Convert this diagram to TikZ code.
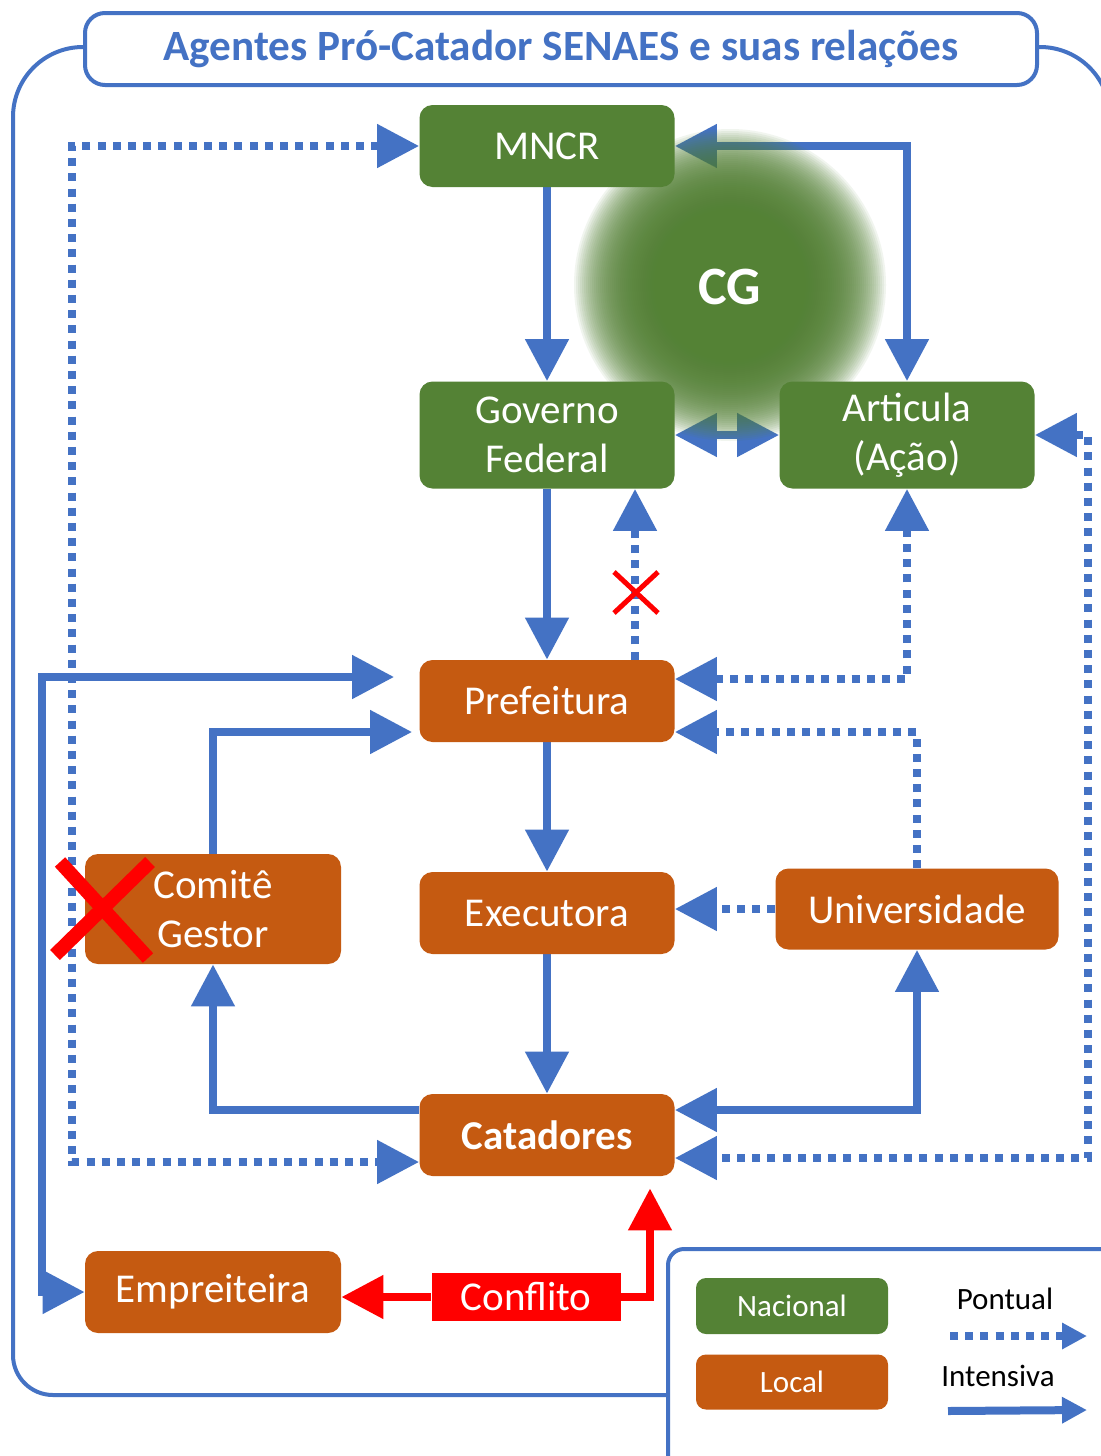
\documentclass[tikz,border=0pt]{standalone}
\usepackage{fontspec}
\setmainfont{Carlito}
\usetikzlibrary{arrows.meta,calc}
\definecolor{cblue}{HTML}{4472C4}
\definecolor{cgreen}{HTML}{548235}
\definecolor{corange}{HTML}{C55A11}
\definecolor{cred}{HTML}{FF0000}
\pgfdeclarelayer{bg}
\pgfdeclarelayer{back}
\pgfdeclarelayer{mid}
\pgfsetlayers{bg,back,mid,main}
\tikzset{
  box/.style={rounded corners=6.5pt, text=white, font=\fontsize{20.5}{24.5}\selectfont, align=center, inner sep=0pt, minimum width=127.5pt, minimum height=41pt},
  natbox/.style={box, fill=cgreen},
  locbox/.style={box, fill=corange},
  legbox/.style={rounded corners=5pt, text=white, font=\fontsize{15.5}{18}\selectfont, inner sep=0pt, minimum width=96pt, minimum height=27.5pt},
  legtxt/.style={text=black, font=\fontsize{15.5}{18}\selectfont, inner sep=0pt},
  solidln/.style={draw=cblue, line width=4pt},
  dotln/.style={draw=cblue, line width=4pt, dash pattern=on 4pt off 3.6pt},
  redln/.style={draw=cred, line width=4pt},
  frameln/.style={draw=cblue, line width=2pt},
  bigtip/.tip={Triangle[length=21pt,width=21pt]},
  smalltip/.tip={Triangle[length=12.5pt,width=12.5pt]},
}
\begin{document}
\begin{tikzpicture}[x=0.5pt,y=-0.5pt]
\begin{pgfonlayer}{bg}
\fill[white] (0,0) rectangle (1100,1456);
\end{pgfonlayer}
\useasboundingbox (0,0) rectangle (1100,1456);

% helper coordinates
\coordinate (xp) at (635,0);
\coordinate (x42) at (42,0);
\coordinate (x72) at (72,0);
\coordinate (x650) at (650,0);
\coordinate (x1088) at (1088,0);
\coordinate (y677) at (0,677);
\coordinate (y679) at (0,679);
\coordinate (y732) at (0,732);
\coordinate (y1110) at (0,1110);
\coordinate (y1158) at (0,1158);
\coordinate (y1162) at (0,1162);

% frames
\draw[frameln, rounded corners=35pt] (85,47) -- (13,47) -- (13,700) [rounded corners=20pt] -- (13,1395) -- (668,1395);
\draw[frameln, rounded corners=35pt] (1037,47) -- (1110,47) -- (1110,1200);
\draw[frameln, rounded corners=8pt] (1150,1249) -- (668,1249) -- (668,1500);

% title
\node[draw=cblue, line width=2pt, fill=white, rounded corners=10pt, minimum width=476pt, minimum height=36pt, inner sep=0pt, text=cblue, font=\fontsize{21.6}{24}\selectfont\bfseries] (title) at (561,49) {Agentes Pró-Catador SENAES e suas relações};

% nodes
\node[natbox] (mncr) at (547,146) {MNCR};
\node[natbox, minimum height=53.5pt] (gf) at (547,435) {Governo\\Federal};
\node[natbox, minimum height=53.5pt] (art) at (907,435) {Articula\\(Ação)};
\node[locbox] (pref) at (547,701) {Prefeitura};
\node[locbox] (exec) at (547,913) {Executora};
\node[locbox, minimum width=141.5pt, minimum height=40.5pt] (univ) at (917,909) {Universidade};
\node[locbox, minimum width=128pt, minimum height=55pt] (com) at (213,909) {Comitê\\Gestor};
\node[locbox, font=\fontsize{20.5}{24.5}\selectfont\bfseries] (cat) at (547,1135) {Catadores};
\node[locbox, minimum width=128pt] (emp) at (213,1292) {Empreiteira};
\node[fill=cred, text=white, font=\fontsize{20.5}{24.5}\selectfont, inner sep=0pt, minimum width=94.5pt, minimum height=24pt] (conf) at (526,1297) {Conflito};

% CG blob (soft edge from stacked translucent discs)
\begin{pgfonlayer}{mid}
\foreach \r in {70,72,...,156} {
  \fill[cgreen, fill opacity=0.08] (730,285) circle (\r*0.5pt);
}
\fill[cgreen] (730,285) circle (35pt);
\end{pgfonlayer}
\node[text=white, font=\fontsize{27}{30}\selectfont\bfseries, inner sep=0pt] (cg) at (730,287) {CG};

% connectors
\begin{pgfonlayer}{back}
\draw[solidln, -{bigtip}] (mncr) -- (gf);
\draw[solidln, {bigtip}-{bigtip}] (mncr.east) -| (art.north);
\draw[solidln, {bigtip}-{bigtip}] (gf) -- (art);
\draw[solidln, -{bigtip}] (gf) -- (pref);
\draw[dotln, -{bigtip}] (pref.north -| xp) -- (gf.south -| xp);
\draw[dotln, {bigtip}-{bigtip}] (pref.east |- y679) -| (art.south);
\draw[dotln, -{bigtip}] (univ.north) |- (pref.east |- y732);
\draw[solidln, -{bigtip}] (pref) -- (exec);
\draw[dotln, -{bigtip}] (univ.west) -- (univ.west -| exec.east);
\draw[solidln, -{bigtip}] (exec) -- (cat);
\draw[solidln, -{bigtip}] (cat.west |- y1110) -| (com.south);
\draw[solidln, -{bigtip}, shorten >=3.5pt] (com.north) |- (pref.west |- y732);
\draw[solidln, {bigtip}-{bigtip}] (cat.east |- y1110) -| (univ.south);
\draw[dotln, {bigtip}-{bigtip}] (art.east) -- (art.east -| x1088) -- (x1088 |- y1158) -- (cat.east |- y1158);
\draw[dotln, {bigtip}-{bigtip}] (mncr.west) -- (mncr.west -| x72) -- (x72 |- y1162) -- (cat.west |- y1162);
\draw[solidln, {bigtip}-{bigtip}, shorten <=12.5pt] (pref.west |- y677) -- (x42 |- y677) -- (x42 |- emp.west) -- (emp.west);
\draw[redln, -{bigtip}] (conf.west) -- (conf.west -| emp.east);
\draw[redln, -{bigtip}, shorten >=6pt] (conf.east) -| (cat.south -| x650);
\end{pgfonlayer}

% red crosses
\draw[cred, line width=2.5pt] (614,572) -- (658,613);
\draw[cred, line width=2.5pt] (658,572) -- (614,613);
\draw[cred, line width=7pt] (60,862) -- (148,958);
\draw[cred, line width=7pt] (150,862) -- (55,955);

% legend
\node[legbox, fill=cgreen, minimum height=28pt] (lnac) at (792,1306) {Nacional};
\node[legbox, fill=corange] (lloc) at (792,1382) {Local};
\node[legtxt] (lpon) at (1005,1299) {Pontual};
\node[legtxt] (lint) at (998,1376) {Intensiva};
\coordinate (lp1) at (950,1336);
\coordinate (lp2) at (1087,1336);
\coordinate (li1) at (948,1411);
\coordinate (li2) at (1087,1410);
\draw[dotln, -{smalltip}] (lp1) -- (lp2);
\draw[solidln, -{smalltip}] (li1) -- (li2);
\end{tikzpicture}
\end{document}
